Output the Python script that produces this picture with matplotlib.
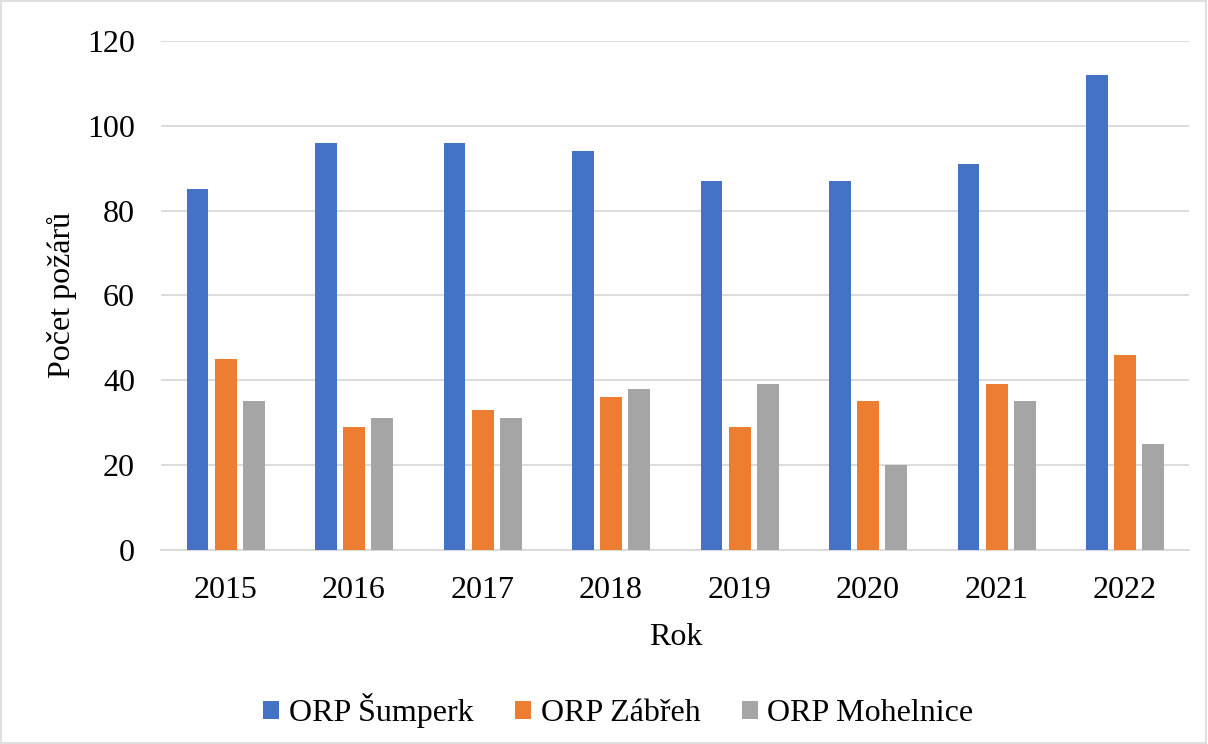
import matplotlib
matplotlib.use("Agg")
import matplotlib.pyplot as plt
import numpy as np
from matplotlib.patches import Rectangle

years = ["2015", "2016", "2017", "2018", "2019", "2020", "2021", "2022"]
sumperk = [85, 96, 96, 94, 87, 87, 91, 112]
zabreh = [45, 29, 33, 36, 29, 35, 39, 46]
mohelnice = [35, 31, 31, 38, 39, 20, 35, 25]
series_names = ["ORP Šumperk", "ORP Zábřeh", "ORP Mohelnice"]
colors = ["#4472C4", "#ED7D31", "#A5A5A5"]

plt.rcParams['font.family'] = ['Liberation Serif', 'DejaVu Serif']
FS = 23

fig = plt.figure(figsize=(12.08, 7.44), dpi=100)
ax = fig.add_axes([0.1335, 0.261, 0.851, 0.684])

x = np.arange(len(years))
w = 0.171
off = 0.218
for i, (vals, name, c) in enumerate(zip([sumperk, zabreh, mohelnice], series_names, colors)):
    ax.bar(x + (i - 1) * off, vals, width=w, color=c, label=name, zorder=3)

ax.set_xlim(-0.5, len(years) - 0.5)
ax.set_ylim(0, 120)
ax.set_yticks(range(0, 121, 20))
ax.set_xticks(x)
ax.set_xticklabels(years)
ax.grid(axis='y', color='#D9D9D9', linewidth=1.3, zorder=0)
for s in ['top', 'right', 'left']:
    ax.spines[s].set_visible(False)
ax.spines['bottom'].set_color('#D9D9D9')
ax.spines['bottom'].set_linewidth(1.3)
ax.tick_params(axis='both', length=0, labelsize=FS, colors='black')
ax.tick_params(axis='x', pad=19)
ax.tick_params(axis='y', pad=19)
ax.set_xlabel("Rok", fontsize=FS, labelpad=13)
ax.set_ylabel("Počet požárů", fontsize=FS, labelpad=7)

leg = fig.legend(loc='center', bbox_to_anchor=(0.512, 0.045), ncol=3, frameon=False,
                 fontsize=FS, handlelength=0.5, handleheight=0.5, columnspacing=1.3,
                 handletextpad=0.3)

fig.patches.append(Rectangle((0.001, 0.001), 0.997, 0.997, transform=fig.transFigure,
                             fill=False, edgecolor='#D9D9D9', linewidth=1.2))

fig.savefig("out.png", dpi=100)
